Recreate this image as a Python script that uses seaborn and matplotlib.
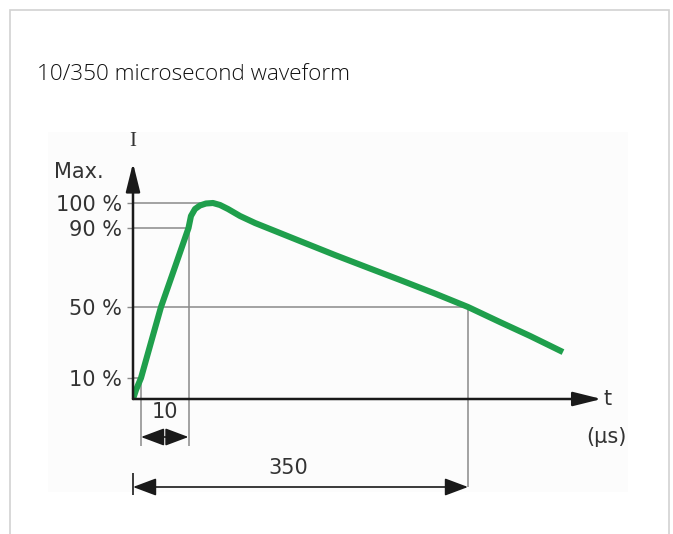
import numpy as np
import matplotlib
matplotlib.use("Agg")
import matplotlib.pyplot as plt
import seaborn as sns
from matplotlib.patches import Rectangle

# Impulse current waveform 10/350 us: time in microseconds, current in % of peak
time_us = [0, 0.375, 1, 3.13, 5.21, 8.07, 11, 14.0, 18.9, 24.9, 32.2, 40.7,
           49.2, 58.9, 73.5, 91.7, 109.8, 146.2, 188.7, 231.1, 267.5, 310,
           350, 388.8, 425.2, 465.2]
current_pct = [0, 4.3, 10, 30.3, 50, 69.7, 90, 94.8, 97.6, 99, 99.8, 100,
               99.2, 97.6, 94.8, 92, 89.5, 83.4, 76.3, 69.5, 63.7, 56.8,
               50, 41.5, 33.7, 24.6]

# Reference levels marked on the current axis
levels_pct = [10, 50, 90, 100]
level_labels = ["10 %", "50 %", "90 %", "100 %"]

# Characteristic times
t10_us, t90_us = 1, 11          # 10 % and 90 % crossings of the front
front_time_us = 10              # front time (t90 - t10)
half_value_time_us = 350        # time to half value
t_peak_us = 40.7

GREEN = "#1f9f4c"
GUIDE = "#8a8a8a"
INK = "#1a1a1a"
TXT = "#333333"
FS = 15

# Schematic (piecewise-linear) scales: stretched front, compressed tail
T_KNOTS = np.array([-1000, 0, 1, 11, 350, 2000], dtype=float)
U_KNOTS = np.array([-8000, 0, 8, 55.5, 335, 335 + 1650 * 0.8245])
P_KNOTS = np.array([-1000, 0, 10, 50, 90, 100, 1000], dtype=float)
V_KNOTS = np.array([-1000, 0, 21, 92, 171, 196, 196 + 900 * 2.5])


def x_fwd(t):
    return np.interp(t, T_KNOTS, U_KNOTS)


def x_inv(u):
    return np.interp(u, U_KNOTS, T_KNOTS)


def y_fwd(p):
    return np.interp(p, P_KNOTS, V_KNOTS)


def y_inv(v):
    return np.interp(v, V_KNOTS, P_KNOTS)


sns.set_theme(style="white")
plt.rcParams["font.family"] = ["DejaVu Sans"]

W, H = 673, 534
fig = plt.figure(figsize=(W / 100, H / 100), dpi=100)
fig.patch.set_facecolor("white")

# card frame and the diagram panel
fig.add_artist(Rectangle((9.5 / W, -0.02), (669 - 9.5) / W, (H - 9.5) / H + 0.02,
                         transform=fig.transFigure, fill=False,
                         edgecolor="#d2d2d2", lw=1.2, zorder=-2))
fig.add_artist(Rectangle((48 / W, (H - 492) / H), 580 / W, 360 / H,
                         transform=fig.transFigure, facecolor="#fcfcfc",
                         edgecolor="none", zorder=-1))

fig.text(37 / W, 1 - 75 / H, "10/350 microsecond waveform",
         family=["Open Sans", "DejaVu Sans"], fontsize=16.2, fontweight=300,
         color="#111111", ha="left", va="center")

xmax, ymax = 530, 117
ax_w = float(x_fwd(xmax) - x_fwd(0))
ax_h = float(y_fwd(ymax) - y_fwd(0))
ax = fig.add_axes([133 / W, (H - 399) / H, ax_w / W, ax_h / H])
ax.set_facecolor("none")
ax.set_xscale("function", functions=(x_fwd, x_inv))
ax.set_yscale("function", functions=(y_fwd, y_inv))
ax.set_xlim(0, xmax)
ax.set_ylim(0, ymax)
for s in ax.spines.values():
    s.set_visible(False)

# guide lines to the reference levels
level_times = [t10_us, half_value_time_us, t90_us, t_peak_us]
for lvl, tl in zip(levels_pct, level_times):
    ax.hlines(lvl, 0, tl, color=GUIDE, lw=1.1, zorder=2, clip_on=False)

below_front = -38     # dimension line for the front time
below_tail = -88      # dimension line for the half-value time
ax.vlines(t10_us, below_front - 9, 10, color=GUIDE, lw=1.1, zorder=2, clip_on=False)
ax.vlines(t90_us, below_front - 9, 90, color=GUIDE, lw=1.1, zorder=2, clip_on=False)
ax.vlines(half_value_time_us, below_tail, 50, color=GUIDE, lw=1.1, zorder=2, clip_on=False)
ax.vlines(0, below_tail - 8, below_tail + 14, color=INK, lw=1.2, zorder=2, clip_on=False)

# waveform
sns.lineplot(x=time_us, y=current_pct, ax=ax, color=GREEN, lw=4.4, sort=False,
             zorder=5, solid_joinstyle="round", solid_capstyle="butt")

# axes as arrows
ax.annotate("", xy=(0, 116), xytext=(0, 0), xycoords="data", annotation_clip=False,
            arrowprops=dict(arrowstyle="-|>,head_length=1.45,head_width=0.36",
                            color=INK, lw=1.8, shrinkA=0, shrinkB=0), zorder=6)
x_tip = 512
ax.annotate("", xy=(x_tip, 0), xytext=(0, 0), xycoords="data", annotation_clip=False,
            arrowprops=dict(arrowstyle="-|>,head_length=1.45,head_width=0.36",
                            color=INK, lw=1.8, shrinkA=0, shrinkB=0), zorder=6)

# level ticks and labels
ax.set_xticks([])
ax.set_yticks(levels_pct, labels=level_labels)
ax.tick_params(axis="y", length=4.3, width=1.0, color=GUIDE, pad=3.5,
               labelsize=FS, labelcolor=TXT, left=True)

ax.annotate("Max.", xy=(0, 112.4), xytext=(-21.5, 0), textcoords="offset points",
            ha="right", va="center", fontsize=FS, color=TXT, annotation_clip=False)
ax.annotate("I", xy=(0, 124.8), xytext=(0, 0), textcoords="offset points",
            ha="center", va="center", fontsize=15, color=TXT,
            family=["Liberation Serif"], annotation_clip=False)
ax.annotate("t", xy=(x_tip, 0), xytext=(1.5, 0), textcoords="offset points",
            ha="left", va="center", fontsize=FS, color=TXT, annotation_clip=False)
ax.annotate("(\u00b5s)", xy=(x_tip, 0), xytext=(3.6, -27.4), textcoords="offset points",
            ha="center", va="center", fontsize=FS, color=TXT, annotation_clip=False)

# dimension arrows
dim_style = "<|-|>,head_length=1.2,head_width=0.45"
ax.annotate("", xy=(t90_us, below_front), xytext=(t10_us, below_front),
            annotation_clip=False,
            arrowprops=dict(arrowstyle=dim_style, color=INK, lw=1.2,
                            shrinkA=0, shrinkB=0))
ax.annotate("", xy=(half_value_time_us, below_tail), xytext=(0, below_tail),
            annotation_clip=False,
            arrowprops=dict(arrowstyle=dim_style, color=INK, lw=1.2,
                            shrinkA=0, shrinkB=0))
ax.text(float(x_inv((x_fwd(t10_us) + x_fwd(t90_us)) / 2)), -13, str(front_time_us),
        ha="center", va="center", fontsize=FS, color=TXT, clip_on=False)
ax.text(132, -69, str(half_value_time_us), ha="center", va="center",
        fontsize=FS, color=TXT, clip_on=False)

fig.savefig("out.png", dpi=100, facecolor="white")
